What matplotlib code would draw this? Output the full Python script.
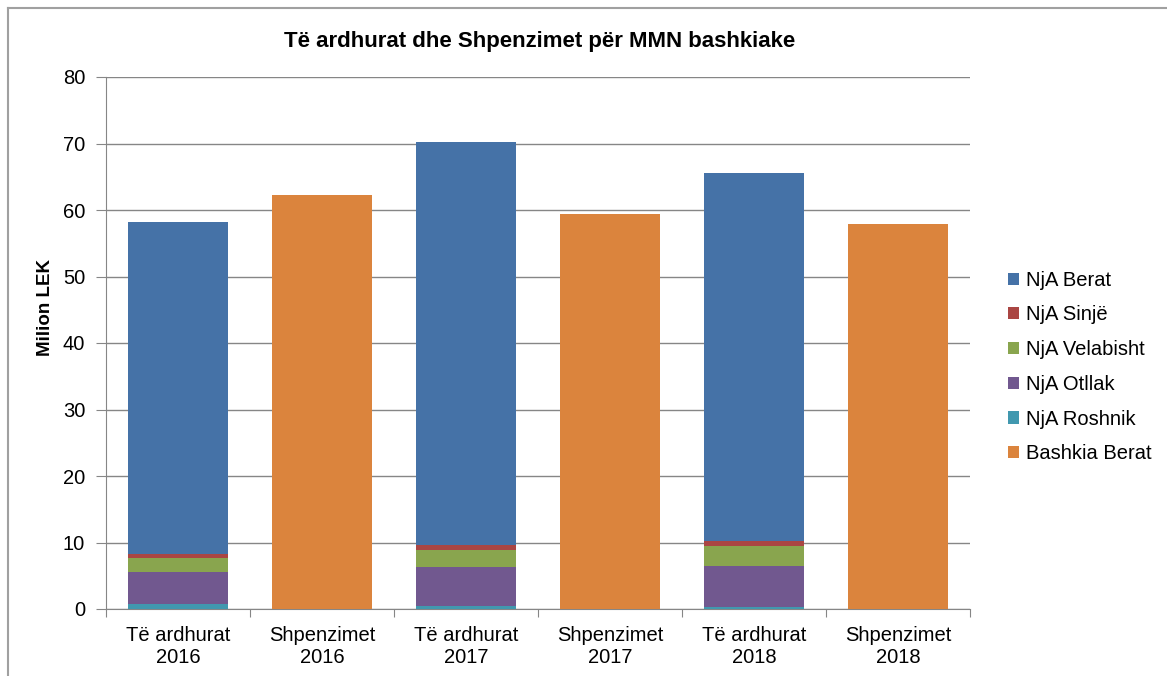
import matplotlib
matplotlib.use("Agg")
import matplotlib.pyplot as plt
from matplotlib.lines import Line2D
from matplotlib.patches import Patch

plt.rcParams['font.family'] = ['Liberation Sans', 'DejaVu Sans']

categories = ["Të ardhurat\n2016", "Shpenzimet\n2016", "Të ardhurat\n2017",
              "Shpenzimet\n2017", "Të ardhurat\n2018", "Shpenzimet\n2018"]
nja_roshnik = [0.7, 0, 0.5, 0, 0.25, 0]
nja_otllak = [4.9, 0, 5.8, 0, 6.25, 0]
nja_velabisht = [2.1, 0, 2.5, 0, 3.0, 0]
nja_sinje = [0.5, 0, 0.8, 0, 0.7, 0]
nja_berat = [50.0, 0, 60.6, 0, 55.3, 0]
bashkia_berat = [0, 62.3, 0, 59.4, 0, 57.9]

series = [
    ("NjA Roshnik", nja_roshnik, "#4198AF"),
    ("NjA Otllak", nja_otllak, "#71588F"),
    ("NjA Velabisht", nja_velabisht, "#89A54E"),
    ("NjA Sinjë", nja_sinje, "#AA4643"),
    ("NjA Berat", nja_berat, "#4572A7"),
    ("Bashkia Berat", bashkia_berat, "#DB843D"),
]

W, H = 1167, 676
fig = plt.figure(figsize=(W/100, H/100), dpi=100)
ax = fig.add_axes([106/W, 1-609/H, (970-106)/W, (609-77)/H])

x = list(range(len(categories)))
bottom = [0]*len(categories)
for name, vals, col in series:
    ax.bar(x, vals, width=0.69, bottom=bottom, color=col, label=name, zorder=3)
    bottom = [bb + v for bb, v in zip(bottom, vals)]

ax.set_ylim(0, 80)
ax.set_xlim(-0.5, 5.5)
ax.set_yticks(range(0, 81, 10))
ax.yaxis.grid(True, color="#868686", linewidth=1, zorder=0)
ax.set_axisbelow(True)
for s in ["top", "right"]:
    ax.spines[s].set_visible(False)
for s in ["left", "bottom"]:
    ax.spines[s].set_color("#868686")
ax.tick_params(axis='y', direction='out', length=7, color="#868686", labelsize=14.5, pad=8)
ax.set_xticks([i + 0.5 for i in range(-1, 6)], minor=False)
ax.set_xticklabels([])
ax.set_xticks(x, minor=True)
ax.set_xticklabels(categories, minor=True, fontsize=14.5, linespacing=1.25)
ax.tick_params(axis='x', which='major', direction='out', length=6, color="#868686")
ax.tick_params(axis='x', which='minor', length=0, pad=12)

fig.text(45/W, 1-308/H, "Milion LEK", rotation=90, ha='center', va='center',
         fontsize=13.5, fontweight='bold')
fig.text(540/W, 1-42/H, "Të ardhurat dhe Shpenzimet për MMN bashkiake",
         ha='center', va='center', fontsize=16, fontweight='bold')

order = ["NjA Berat", "NjA Sinjë", "NjA Velabisht", "NjA Otllak", "NjA Roshnik", "Bashkia Berat"]
cols = {n: c for n, _, c in series}
leg_handles = [Patch(facecolor=cols[n]) for n in order]
fig.legend(leg_handles, order, loc='center left', bbox_to_anchor=(1008/W, 1-367/H),
           frameon=False, fontsize=14.5, handlelength=0.55, handleheight=0.55,
           handletextpad=0.35, labelspacing=0.78, borderpad=0, borderaxespad=0)

fig.add_artist(Line2D([8/W, 1], [1-8/H, 1-8/H], color="#A0A0A0", linewidth=1.5,
                      transform=fig.transFigure))
fig.add_artist(Line2D([8/W, 8/W], [0, 1-8/H], color="#A0A0A0", linewidth=1.5,
                      transform=fig.transFigure))

fig.savefig("out.png", dpi=100)
